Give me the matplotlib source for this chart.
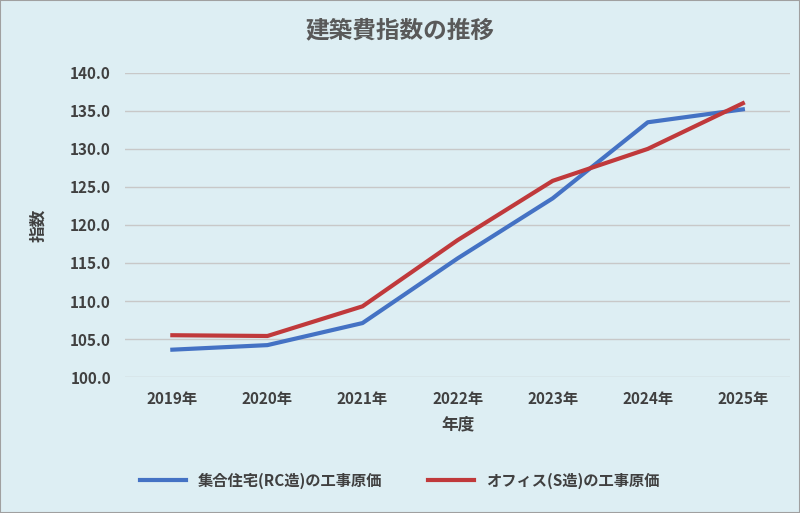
import matplotlib
matplotlib.use("Agg")
import matplotlib.pyplot as plt

years = ["2019年", "2020年", "2021年", "2022年", "2023年", "2024年", "2025年"]
housing = [103.6, 104.2, 107.1, 115.6, 123.5, 133.5, 135.2]
office = [105.5, 105.4, 109.3, 118.0, 125.8, 130.0, 136.0]
yticks = [100, 105, 110, 115, 120, 125, 130, 135, 140]

plt.rcParams["font.family"] = "Noto Sans CJK JP"
bg = "#DDEEF3"
fig = plt.figure(figsize=(8, 5.13), dpi=100, facecolor=bg)
ax = fig.add_axes([0.156, 0.265, 0.832, 0.593], facecolor=bg)
x = range(len(years))
ax.plot(x, housing, color="#4472C4", lw=3, label="集合住宅(RC造)の工事原価")
ax.plot(x, office, color="#C0393B", lw=3, label="オフィス(S造)の工事原価")
ax.set_xlim(-0.5, len(years) - 0.5)
ax.set_ylim(100, 140)
ax.set_yticks(yticks)
ax.set_yticklabels([f"{v:.1f}" for v in yticks], fontsize=11, fontweight="bold", color="#404040")
ax.set_xticks(list(x))
ax.set_xticklabels(years, fontsize=11, fontweight="bold", color="#404040")
ax.tick_params(length=0, pad=10)
ax.grid(axis="y", color="#C8C8C8", lw=1)
ax.set_axisbelow(True)
for s in ax.spines.values():
    s.set_visible(False)
ax.set_xlabel("年度", fontsize=12, fontweight="bold", color="#404040", labelpad=6)
ax.set_ylabel("指数", fontsize=12, fontweight="bold", color="#404040", labelpad=16)
fig.suptitle("建築費指数の推移", x=0.5, y=0.965, fontsize=17, fontweight="bold", color="#595959")
fig.legend(loc="lower center", bbox_to_anchor=(0.5, 0.02), ncol=2, frameon=False,
           handlelength=3, columnspacing=3,
           prop={"weight": "bold", "size": 11})
for t in fig.legends[0].get_texts():
    t.set_color("#404040")
fig.patches.append(plt.Rectangle((0, 0), 1, 1, transform=fig.transFigure, fill=False,
                                 edgecolor="#A0A0A0", lw=1.5))
fig.savefig("out.png", dpi=100, facecolor=bg)
